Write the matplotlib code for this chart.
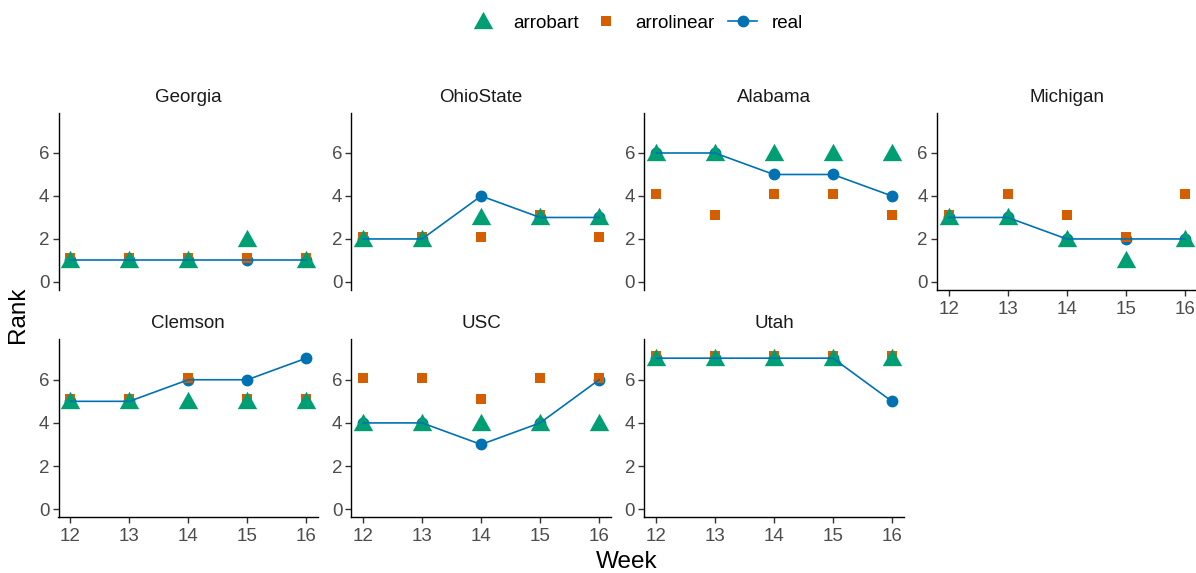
import numpy as np
import matplotlib
matplotlib.use('Agg')
import matplotlib.pyplot as plt
from matplotlib.lines import Line2D

plt.rcParams['font.family'] = ['Liberation Sans', 'DejaVu Sans']

weeks = [12, 13, 14, 15, 16]
teams = ['Georgia', 'OhioState', 'Alabama', 'Michigan', 'Clemson', 'USC', 'Utah']

real = {
    'Georgia':   [1, 1, 1, 1, 1],
    'OhioState': [2, 2, 4, 3, 3],
    'Alabama':   [6, 6, 5, 5, 4],
    'Michigan':  [3, 3, 2, 2, 2],
    'Clemson':   [5, 5, 6, 6, 7],
    'USC':       [4, 4, 3, 4, 6],
    'Utah':      [7, 7, 7, 7, 5],
}
arrobart = {
    'Georgia':   [1, 1, 1, 2, 1],
    'OhioState': [2, 2, 3, 3, 3],
    'Alabama':   [6, 6, 6, 6, 6],
    'Michigan':  [3, 3, 2, 1, 2],
    'Clemson':   [5, 5, 5, 5, 5],
    'USC':       [4, 4, 4, 4, 4],
    'Utah':      [7, 7, 7, 7, 7],
}
arrolinear = {
    'Georgia':   [1, 1, 1, 1, 1],
    'OhioState': [2, 2, 2, 3, 2],
    'Alabama':   [4, 3, 4, 4, 3],
    'Michigan':  [3, 4, 3, 2, 4],
    'Clemson':   [5, 5, 6, 5, 5],
    'USC':       [6, 6, 5, 6, 6],
    'Utah':      [7, 7, 7, 7, 7],
}

green = '#009E73'
orange = '#D55E00'
blue = '#0072B2'
tri = [(-1, -0.79), (1, -0.79), (0, 1.0)]

W, H = 1196, 573
fig = plt.figure(figsize=(W / 100, H / 100), dpi=100)

lefts = [58.5, 351.3, 644.1, 936.9]
pw = 259.6
rows = [(112.7, 290.0), (339.3, 517.3)]

for i, team in enumerate(teams):
    r, c = divmod(i, 4)
    top, bot = rows[r]
    ax = fig.add_axes([lefts[c] / W, 1 - bot / H, pw / W, (bot - top) / H])
    ax.plot(weeks, real[team], 'o', color=blue, ms=7.5, zorder=2)
    ax.plot(weeks, np.array(arrolinear[team]) + 0.1, 's', color=orange, ms=7.4, mew=0, zorder=3)
    ax.plot(weeks, arrobart[team], marker=tri, ls='none', color=green, ms=14, mew=0, zorder=4)
    ax.plot(weeks, real[team], '-', color=blue, lw=1.2, zorder=5)
    ax.set_xlim(11.8, 16.2)
    ax.set_ylim(-0.375, 7.875)
    ax.set_yticks([0, 2, 4, 6])
    ax.set_xticks(weeks)
    for s in ['top', 'right']:
        ax.spines[s].set_visible(False)
    ax.spines['left'].set_linewidth(1.0)
    ax.spines['bottom'].set_linewidth(1.0)
    ax.tick_params(length=4, width=1.0, color='#333333', labelcolor='#4D4D4D',
                   labelsize=13.5, pad=2.5)
    ax.tick_params(axis='x', pad=4)
    bottom_panel = (r == 1) or (c == 3)
    if not bottom_panel:
        ax.spines['bottom'].set_visible(False)
        ax.tick_params(axis='x', bottom=False, labelbottom=False)
    ax.set_title(team, fontsize=13.5, color='#1A1A1A', pad=8)

fig.text(627 / W, 1 - 562 / H, 'Week', fontsize=17.5, ha='center', va='center')
fig.text(18 / W, 1 - 315 / H, 'Rank', fontsize=17.5, ha='center', va='center', rotation=90)

handles = [
    Line2D([], [], marker=tri, ls='none', color=green, ms=14, mew=0),
    Line2D([], [], marker='s', ls='none', color=orange, ms=7.4, mew=0),
    Line2D([], [], marker='o', ls='-', color=blue, ms=7.5, lw=1.2),
]
fig.legend(handles, ['arrobart', 'arrolinear', 'real'], loc='center',
           bbox_to_anchor=(636 / W, 1 - 23 / H), ncol=3, frameon=False,
           fontsize=13.5, handlelength=1.55, handletextpad=0.8, columnspacing=0.7)

fig.savefig('out.png', dpi=100)
